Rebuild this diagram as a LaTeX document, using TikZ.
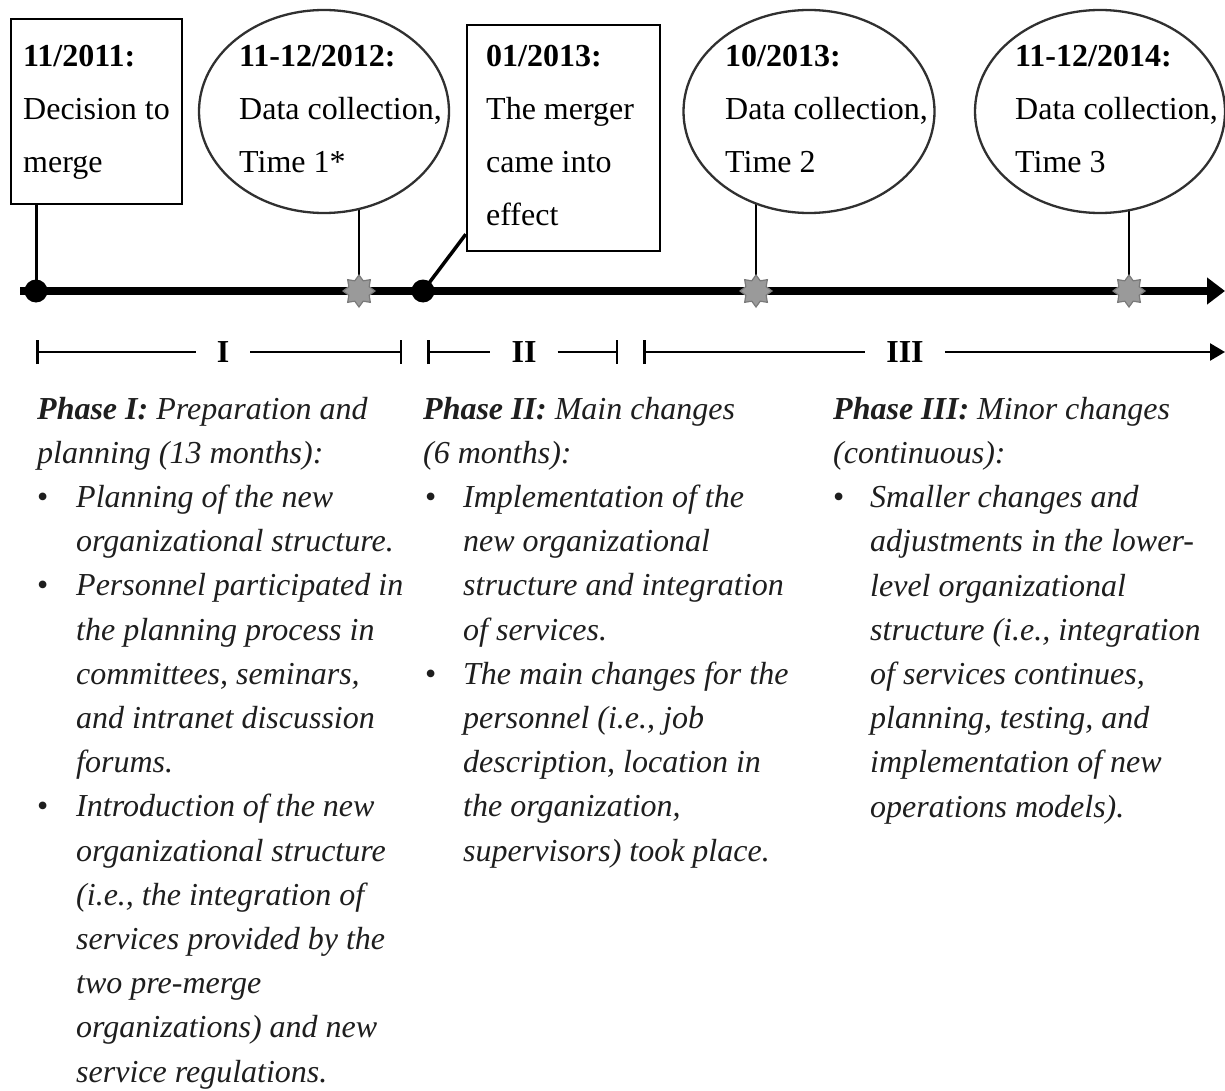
\documentclass[tikz,border=0pt]{standalone}
\usepackage{fontspec}
\setmainfont{Liberation Serif}
\usetikzlibrary{shapes.geometric,arrows.meta,backgrounds}
\definecolor{starfill}{HTML}{9A9A9A}
\definecolor{starline}{HTML}{7A7A7A}
\definecolor{ellline}{HTML}{303030}
\definecolor{lowtext}{HTML}{1E1E1E}
\newcommand\bul[1]{\makebox[#1][l]{\upshape\textbullet}}
\newcommand\ind[1]{\hspace*{#1}}
\tikzset{
  boxst/.style={draw=black,line width=2.5pt,fill=white,rectangle,inner sep=0pt},
  ellst/.style={draw=ellline,line width=2.3pt,fill=white,ellipse,inner sep=0pt},
  toptxt/.style={inner sep=0pt,anchor=base west,align=left,font=\fontsize{32}{53}\selectfont},
  lowtxt/.style={inner sep=0pt,anchor=base west,align=left,text=lowtext,font=\fontsize{32}{44.2}\selectfont\itshape},
  conn/.style={line width=3pt,black},
  econn/.style={line width=2.4pt,black},
  dotst/.style={circle,fill=black,minimum size=23pt,inner sep=0pt},
  starst/.style={star,star points=8,star point ratio=1.45,minimum size=32pt,inner sep=0pt,fill=starfill,draw=starline,line width=1.2pt},
  barlab/.style={font=\fontsize{32}{38}\selectfont\bfseries,inner xsep=21pt,inner ysep=0pt},
  barst/.style={line width=2.5pt},
}
\begin{document}
\begin{tikzpicture}[x=1pt,y=-1pt]
\useasboundingbox (0,0) rectangle (1225,1091);

% axis
\coordinate (axL) at (20,291);
\coordinate (axR) at (1225,291);
\draw[line width=8pt,-{Triangle[length=18pt,width=26pt]}] (axL) -- (axR);

% events on axis
\node[dotst] (d1) at (36,291) {};
\node[dotst] (d2) at (423,291) {};
\node[starst] (s1) at (359,291) {};
\node[starst] (s2) at (756,291) {};
\node[starst] (s3) at (1129,291) {};

% boxes and ellipses
\node[boxst,minimum width=171pt,minimum height=185pt] (b1) at (96.5,111.5) {};
\node[ellst,minimum width=250pt,minimum height=203pt] (e1) at (324,111.5) {};
\node[boxst,minimum width=193pt,minimum height=226pt] (b3) at (563.5,138) {};
\node[ellst,minimum width=251pt,minimum height=203pt] (e2) at (809,111.5) {};
\node[ellst,minimum width=250pt,minimum height=203pt] (e3) at (1100,111.5) {};

% connectors
\begin{scope}[on background layer]
  \draw[conn] (d1.center) -- (d1 |- b1.south);
  \draw[econn] (s1.center) -- (s1 |- e1.center);
  \draw[econn] (s2.center) -- (s2 |- e2.center);
  \draw[econn] (s3.center) -- (s3 |- e3.center);
  \draw[line width=3.5pt] (d2.center) -- ([yshift=18pt]b3.south west);
\end{scope}

% top texts (anchored at the baseline of the last line)
\node[toptxt] (t1) at (23,173) {\textbf{11/2011:}\\Decision to\\merge};
\node[toptxt] (t2) at (239,173) {\textbf{11-12/2012:}\\Data collection,\\Time 1*};
\node[toptxt] (t3) at (486,226) {\textbf{01/2013:}\\The merger\\came into\\effect};
\node[toptxt] (t4) at (725,173) {\textbf{10/2013:}\\Data collection,\\Time 2};
\node[toptxt] (t5) at (1015,173) {\textbf{11-12/2014:}\\Data collection,\\Time 3};

% phase bars
\coordinate (pIl) at (36,352);
\coordinate (pIr) at (402,352);
\coordinate (pIIl) at (427,352);
\coordinate (pIIr) at (618,352);
\coordinate (pIIIl) at (643,352);
\coordinate (pIIIr) at (1225,352);
\node[barlab] (lI) at (223,352) {I};
\node[barlab] (lII) at (524,352) {II};
\node[barlab] (lIII) at (905,352) {III};
\draw[barst,{Bar[width=24pt,line width=2.5pt]}-] (pIl) -- (lI.west);
\draw[barst,-{Bar[width=24pt,line width=2.5pt]}] (lI.east) -- (pIr);
\draw[barst,{Bar[width=24pt,line width=2.5pt]}-] (pIIl) -- (lII.west);
\draw[barst,-{Bar[width=24pt,line width=2.5pt]}] (lII.east) -- (pIIr);
\draw[barst,{Bar[width=24pt,line width=2.5pt]}-] (pIIIl) -- (lIII.west);
\draw[barst,-{Triangle[length=15pt,width=17pt]}] (lIII.east) -- (pIIIr);

% phase descriptions (anchored at the baseline of the last line)
\node[lowtxt] (ph1) at (37,1082) {\textbf{Phase I:} Preparation and\\
planning (13 months):\\
\bul{39pt}Planning of the new\\
\ind{39pt}organizational structure.\\
\bul{39pt}Personnel participated in\\
\ind{39pt}the planning process in\\
\ind{39pt}committees, seminars,\\
\ind{39pt}and intranet discussion\\
\ind{39pt}forums.\\
\bul{39pt}Introduction of the new\\
\ind{39pt}organizational structure\\
\ind{39pt}(i.e., the integration of\\
\ind{39pt}services provided by the\\
\ind{39pt}two pre-merge\\
\ind{39pt}organizations) and new\\
\ind{39pt}service regulations.};

\node[lowtxt] (ph2) at (423,861) {\textbf{Phase II:} Main changes\\
(6 months):\\
\ind{2pt}\bul{38pt}Implementation of the\\
\ind{40pt}new organizational\\
\ind{40pt}structure and integration\\
\ind{40pt}of services.\\
\ind{2pt}\bul{38pt}The main changes for the\\
\ind{40pt}personnel (i.e., job\\
\ind{40pt}description, location in\\
\ind{40pt}the organization,\\
\ind{40pt}supervisors) took place.};

\node[lowtxt] (ph3) at (833,817) {\textbf{Phase III:} Minor changes\\
(continuous):\\
\bul{37pt}Smaller changes and\\
\ind{37pt}adjustments in the lower-\\
\ind{37pt}level organizational\\
\ind{37pt}structure (i.e., integration\\
\ind{37pt}of services continues,\\
\ind{37pt}planning, testing, and\\
\ind{37pt}implementation of new\\
\ind{37pt}operations models).};
\end{tikzpicture}
\end{document}
